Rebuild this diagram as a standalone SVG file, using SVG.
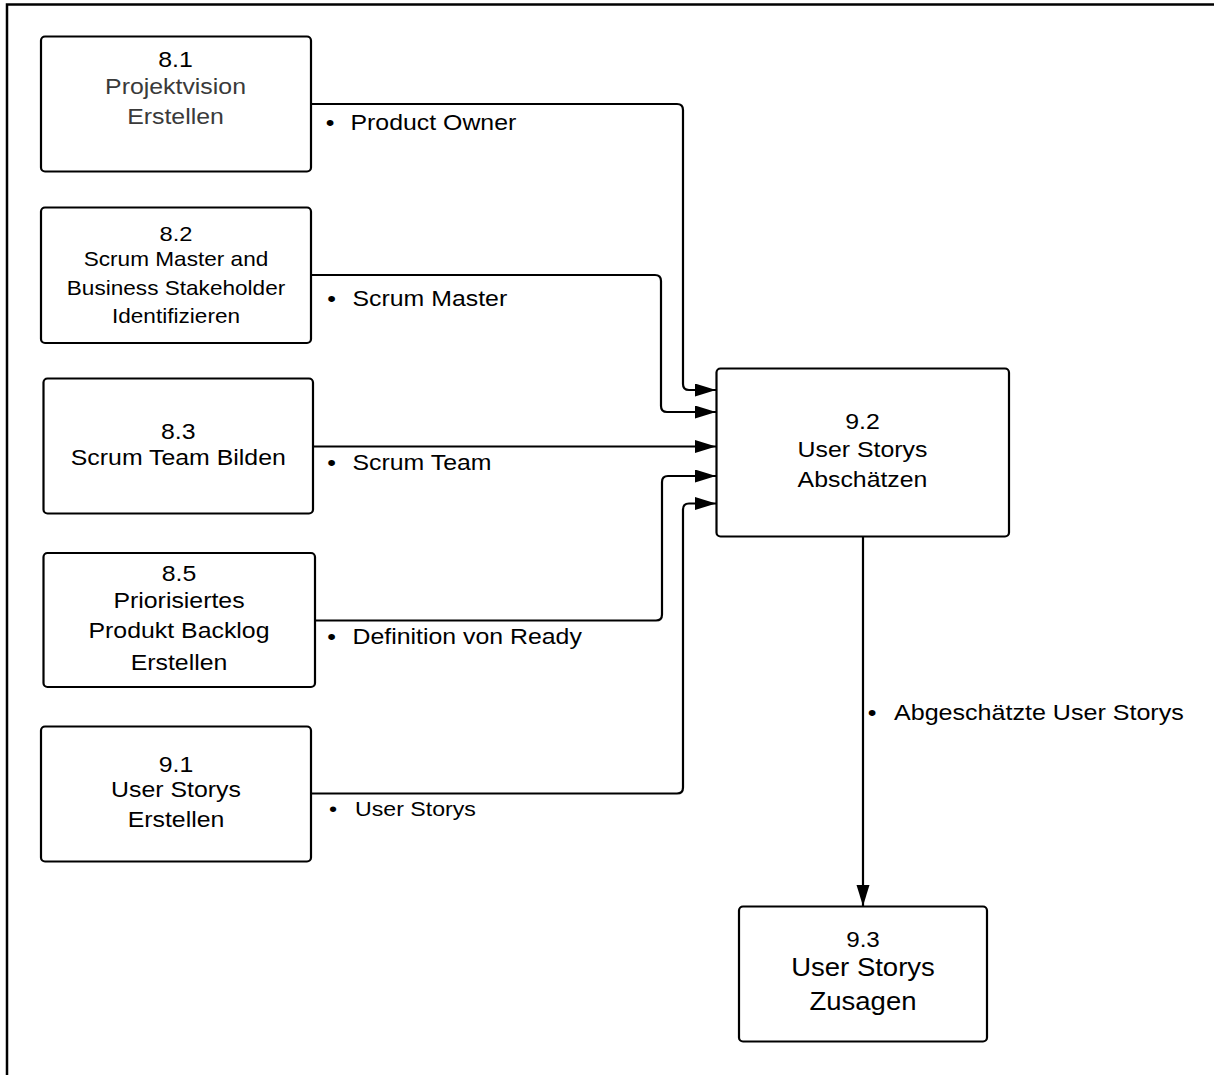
<svg xmlns="http://www.w3.org/2000/svg" width="1214" height="1075" viewBox="0 0 1214 1075">
<style>
.box{fill:#fff;stroke:#000;stroke-width:2.2}
.t{font-family:"Liberation Sans",Arial,sans-serif;font-size:22px;fill:#000;text-anchor:middle}
.g{fill:#3a3a3a}
.l{font-family:"Liberation Sans",Arial,sans-serif;font-size:22px;fill:#000}
.b{font-family:"Liberation Sans",Arial,sans-serif;font-size:22px;fill:#000;text-anchor:middle}
.c{fill:none;stroke:#000;stroke-width:2.2}
</style>
<defs>
<marker id="ah" markerUnits="userSpaceOnUse" markerWidth="22" markerHeight="14" refX="21" refY="6.5" orient="auto">
<path d="M0,0 L21,6.5 L0,13 z" fill="#000"/>
</marker>
</defs>
<rect width="1214" height="1075" fill="#fff"/>
<path d="M7,1075 V4.5 H1214" fill="none" stroke="#000" stroke-width="2.5"/>

<g id="connectors">
<path class="c" d="M311,104 H677 Q683,104 683,110 V384 Q683,390 689,390 H716" marker-end="url(#ah)"/>
<path class="c" d="M311,275 H655 Q661,275 661,281 V406 Q661,412 667,412 H716" marker-end="url(#ah)"/>
<path class="c" d="M313,446.5 H716" marker-end="url(#ah)"/>
<path class="c" d="M315,620.5 H656 Q662,620.5 662,614.5 V482 Q662,476 668,476 H716" marker-end="url(#ah)"/>
<path class="c" d="M311,793.5 H677 Q683,793.5 683,787.5 V509.5 Q683,503.5 689,503.5 H716" marker-end="url(#ah)"/>
<path class="c" d="M863,537 V906" marker-end="url(#ah)"/>
<g id="labels">
<text class="b" transform="matrix(1.13 0 0 1 330 0)" x="0" y="130">•</text>
<text class="l" transform="matrix(1.13 0 0 1 350.5 0)" x="0" y="130">Product Owner</text>
<text class="b" transform="matrix(1.13 0 0 1 331.5 0)" x="0" y="306">•</text>
<text class="l" transform="matrix(1.13 0 0 1 352.5 0)" x="0" y="306">Scrum Master</text>
<text class="b" transform="matrix(1.13 0 0 1 331.5 0)" x="0" y="470.5">•</text>
<text class="l" transform="matrix(1.13 0 0 1 352.5 0)" x="0" y="470.5">Scrum Team</text>
<text class="b" transform="matrix(1.13 0 0 1 331.5 0)" x="0" y="644.5">•</text>
<text class="l" transform="matrix(1.13 0 0 1 352.5 0)" x="0" y="644.5">Definition von Ready</text>
<text class="b" style="font-size:20.5px" transform="matrix(1.13 0 0 1 333 0)" x="0" y="816.5">•</text>
<text class="l" style="font-size:20.5px" transform="matrix(1.13 0 0 1 355 0)" x="0" y="816.5">User Storys</text>
<text class="b" transform="matrix(1.13 0 0 1 872 0)" x="0" y="720.5">•</text>
<text class="l" transform="matrix(1.14 0 0 1 894 0)" x="0" y="720.5">Abgeschätzte User Storys</text>
</g>
</g>

<g id="n81">
<rect class="box" x="41" y="36.5" width="270" height="135" rx="4"/>
<text class="t" transform="matrix(1.13 0 0 1 175.5 0)" x="0" y="67.5">8.1</text>
<text class="t g" transform="matrix(1.13 0 0 1 175.5 0)" x="0" y="94.5">Projektvision</text>
<text class="t g" transform="matrix(1.13 0 0 1 175.5 0)" x="0" y="124">Erstellen</text>
</g>

<g id="n82">
<rect class="box" x="41" y="207.5" width="270" height="135.5" rx="4"/>
<text class="t" style="font-size:21px" transform="matrix(1.13 0 0 1 176 0)" x="0" y="241.5">8.2</text>
<text class="t" style="font-size:20px" transform="matrix(1.13 0 0 1 176 0)" x="0" y="266">Scrum Master and</text>
<text class="t" style="font-size:20px" transform="matrix(1.13 0 0 1 176 0)" x="0" y="295">Business Stakeholder</text>
<text class="t" style="font-size:20px" transform="matrix(1.13 0 0 1 176 0)" x="0" y="323">Identifizieren</text>
</g>

<g id="n83">
<rect class="box" x="43.5" y="378.5" width="269.5" height="135" rx="4"/>
<text class="t" transform="matrix(1.13 0 0 1 178.3 0)" x="0" y="439.3">8.3</text>
<text class="t" transform="matrix(1.13 0 0 1 178.3 0)" x="0" y="465.5">Scrum Team Bilden</text>
</g>

<g id="n85">
<rect class="box" x="43.5" y="553" width="271.5" height="134" rx="4"/>
<text class="t" transform="matrix(1.13 0 0 1 179 0)" x="0" y="581.5">8.5</text>
<text class="t" transform="matrix(1.13 0 0 1 179 0)" x="0" y="608">Priorisiertes</text>
<text class="t" transform="matrix(1.13 0 0 1 179 0)" x="0" y="638.5">Produkt Backlog</text>
<text class="t" transform="matrix(1.13 0 0 1 179 0)" x="0" y="670">Erstellen</text>
</g>

<g id="n91">
<rect class="box" x="41" y="726.5" width="270" height="135" rx="4"/>
<text class="t" transform="matrix(1.13 0 0 1 176 0)" x="0" y="772.5">9.1</text>
<text class="t" transform="matrix(1.13 0 0 1 176 0)" x="0" y="797">User Storys</text>
<text class="t" transform="matrix(1.13 0 0 1 176 0)" x="0" y="827">Erstellen</text>
</g>

<g id="n92">
<rect class="box" x="716.5" y="368.5" width="292.5" height="168" rx="4"/>
<text class="t" transform="matrix(1.13 0 0 1 862.5 0)" x="0" y="429">9.2</text>
<text class="t" transform="matrix(1.13 0 0 1 862.5 0)" x="0" y="457">User Storys</text>
<text class="t" transform="matrix(1.13 0 0 1 862.5 0)" x="0" y="487">Abschätzen</text>
</g>

<g id="n93">
<rect class="box" x="739" y="906.5" width="248" height="135" rx="4"/>
<text class="t" style="font-size:22px" transform="matrix(1.1 0 0 1 863 0)" x="0" y="947">9.3</text>
<text class="t" style="font-size:25px" transform="matrix(1.1 0 0 1 863 0)" x="0" y="976">User Storys</text>
<text class="t" style="font-size:25px" transform="matrix(1.1 0 0 1 863 0)" x="0" y="1010">Zusagen</text>
</g>
</svg>
